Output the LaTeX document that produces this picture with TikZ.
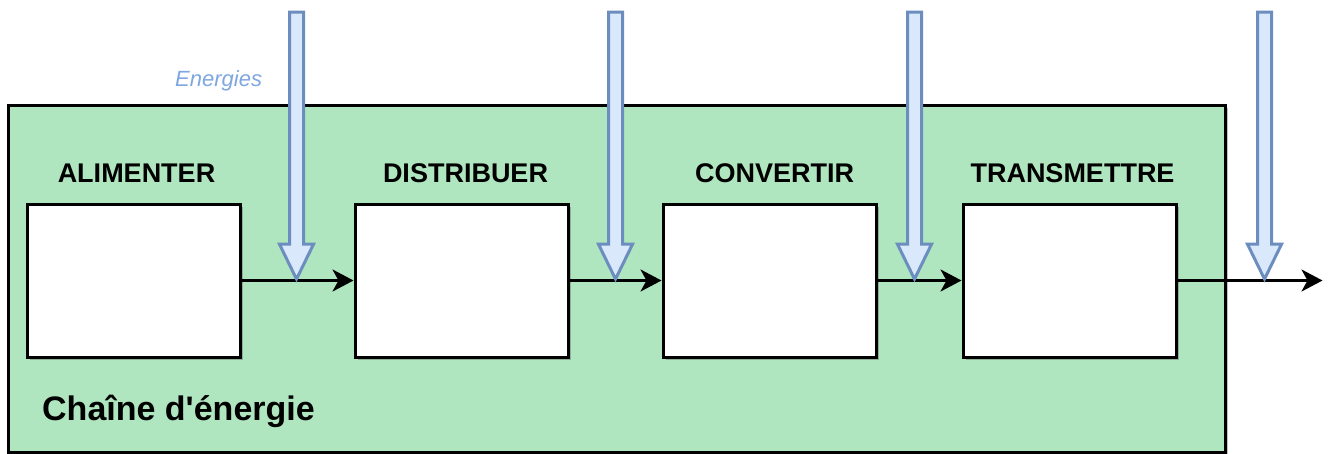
\documentclass[tikz,border=0pt]{standalone}
\usepackage{fontspec}
\setmainfont{Liberation Sans}
\usetikzlibrary{positioning,arrows.meta,shapes.arrows,shadows}
\definecolor{vert}{HTML}{AFE6BF}
\definecolor{bleu}{HTML}{6C8EBF}
\definecolor{bleutint}{HTML}{DAE8FC}
\definecolor{bleutexte}{HTML}{7EA6E0}
\tikzset{
  ombre/.style={drop shadow={shadow xshift=3pt, shadow yshift=-3pt, opacity=0.35, fill=black!70}},
  chaine/.style={draw=black, line width=3pt, fill=vert, minimum width=1217pt,
    minimum height=347pt, inner sep=0pt, ombre},
  bloc/.style={draw=black, line width=3pt, fill=white, minimum width=213pt,
    minimum height=153pt, inner sep=0pt, ombre},
  fct/.style={font=\fontsize{27pt}{31pt}\selectfont\bfseries, inner sep=0pt},
  titre/.style={font=\fontsize{34pt}{40pt}\selectfont\bfseries, inner sep=0pt},
  nrjlab/.style={font=\fontsize{22pt}{26pt}\selectfont\itshape, text=bleutexte, inner sep=0pt},
  arr/.style={-{Stealth[length=21pt,width=22pt,inset=6pt]}, line width=3pt},
  nrj/.style={single arrow, draw=bleu, fill=bleutint, line width=3pt,
    shape border rotate=270, minimum height=267pt, inner sep=5.5pt,
    single arrow head extend=10pt, single arrow tip angle=52, anchor=tip},
}

\begin{document}
\begin{tikzpicture}[x=1pt, y=-1pt]
    \useasboundingbox (0,0) rectangle (1330,453);
    \node[chaine] (chaine) at (616.5,278.5) {};
    \node[bloc] (alim) at (133.5,280.5) {};
    \node[bloc, right=112pt of alim] (dist) {};
    \node[bloc, right=92pt of dist] (conv) {};
    \node[bloc, right=84pt of conv] (trans) {};
    \node[fct, above=20pt of alim, xshift=3pt] (lalim) {ALIMENTER};
    \node[fct, above=20pt of dist, xshift=4pt] (ldist) {DISTRIBUER};
    \node[fct, above=20pt of conv, xshift=5pt] (lconv) {CONVERTIR};
    \node[fct, above=20pt of trans, xshift=3pt] (ltrans) {TRANSMETTRE};
    \node[titre, anchor=base west] (ltitre) at (42,420) {Chaîne d\textquotesingle énergie};
    \node[nrjlab, anchor=base west] (lnrj) at (175,86) {Energies};
    \coordinate[right=145pt of trans.east] (sortie);
    \draw[arr] (alim) -- (dist);
    \draw[arr] (dist) -- (conv);
    \draw[arr] (conv) -- (trans);
    \draw[arr] (trans) -- (sortie);
    % arrivees d'energie
    \coordinate (j1) at ([xshift=55pt, yshift=-2pt]alim.east);
    \coordinate (j2) at ([xshift=46pt, yshift=-2pt]dist.east);
    \coordinate (j3) at ([xshift=37pt, yshift=-2pt]conv.east);
    \coordinate (j4) at ([xshift=87pt, yshift=-2pt]trans.east);
    \foreach \j in {1,...,4}
      \node[nrj] (e\j) at (j\j) {};
\end{tikzpicture}
\end{document}
